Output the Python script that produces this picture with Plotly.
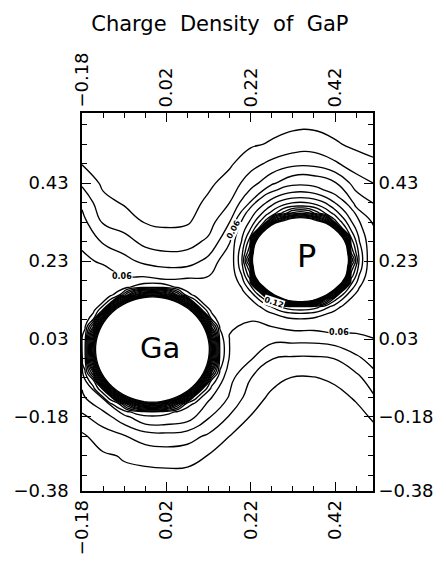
import plotly.graph_objects as go

# ---------------- data ----------------
# coarse charge-density grid covering the whole panel (waves between the atoms)
x_vals = [-0.18, -0.13, -0.08, -0.03, 0.02, 0.07, 0.12, 0.17, 0.22, 0.27, 0.32, 0.37, 0.42, 0.47, 0.52]
y_vals = [-0.37, -0.32, -0.27, -0.22, -0.17, -0.12, -0.07, -0.02, 0.03, 0.08, 0.13,
          0.18, 0.23, 0.28, 0.33, 0.38, 0.43, 0.48, 0.53, 0.58, 0.63]
density = [
    [0.020, 0.023, 0.023, 0.022, 0.022, 0.022, 0.021, 0.020, 0.020, 0.020, 0.020, 0.020, 0.020, 0.020, 0.020],
    [0.022, 0.026, 0.028, 0.0265, 0.027, 0.027, 0.024, 0.022, 0.021, 0.020, 0.020, 0.020, 0.020, 0.021, 0.021],
    [0.025, 0.0285, 0.0308, 0.034, 0.035, 0.034, 0.0295, 0.025, 0.023, 0.021, 0.021, 0.021, 0.021, 0.022, 0.024],
    [0.028, 0.0355, 0.0392, 0.0443, 0.0457, 0.044, 0.038, 0.0298, 0.026, 0.022, 0.023, 0.023, 0.022, 0.024, 0.028],
    [0.038, 0.045, 0.0567, 0.069, 0.069, 0.065, 0.051, 0.039, 0.0295, 0.024, 0.025, 0.025, 0.024, 0.027, 0.032],
    [0.048, 0.061, 0.090, 0.235, 0.233, 0.090, 0.062, 0.049, 0.0347, 0.028, 0.027, 0.027, 0.027, 0.031, 0.041],
    [0.053, 0.120, 0.500, 0.500, 0.500, 0.430, 0.078, 0.053, 0.0402, 0.033, 0.0295, 0.0295, 0.0317, 0.037, 0.048],
    [0.056, 0.300, 0.500, 0.500, 0.500, 0.500, 0.210, 0.056, 0.051, 0.0402, 0.0385, 0.0385, 0.0402, 0.048, 0.055],
    [0.059, 0.300, 0.500, 0.500, 0.500, 0.500, 0.210, 0.059, 0.055, 0.053, 0.053, 0.053, 0.055, 0.058, 0.0602],
    [0.064, 0.150, 0.450, 0.500, 0.500, 0.370, 0.100, 0.063, 0.0605, 0.064, 0.069, 0.069, 0.072, 0.065, 0.065],
    [0.067, 0.083, 0.090, 0.225, 0.223, 0.085, 0.075, 0.066, 0.080, 0.101, 0.208, 0.205, 0.105, 0.078, 0.068],
    [0.068, 0.069, 0.062, 0.063, 0.061, 0.062, 0.062, 0.068, 0.110, 0.320, 0.450, 0.450, 0.235, 0.101, 0.068],
    [0.063, 0.058, 0.0531, 0.0475, 0.0448, 0.0454, 0.053, 0.068, 0.180, 0.450, 0.450, 0.450, 0.450, 0.111, 0.065],
    [0.0575, 0.049, 0.044, 0.037, 0.0352, 0.0362, 0.042, 0.059, 0.110, 0.310, 0.450, 0.450, 0.250, 0.095, 0.061],
    [0.0535, 0.039, 0.035, 0.0295, 0.028, 0.029, 0.0355, 0.050, 0.090, 0.145, 0.220, 0.215, 0.121, 0.071, 0.056],
    [0.048, 0.0329, 0.029, 0.026, 0.025, 0.026, 0.032, 0.040, 0.061, 0.083, 0.101, 0.101, 0.081, 0.0567, 0.049],
    [0.0382, 0.028, 0.026, 0.024, 0.023, 0.024, 0.028, 0.034, 0.0454, 0.058, 0.068, 0.068, 0.061, 0.0452, 0.039],
    [0.0295, 0.025, 0.024, 0.022, 0.021, 0.022, 0.025, 0.0285, 0.0363, 0.0425, 0.047, 0.047, 0.0415, 0.0344, 0.031],
    [0.026, 0.023, 0.022, 0.021, 0.020, 0.021, 0.023, 0.026, 0.0285, 0.031, 0.0343, 0.035, 0.031, 0.028, 0.027],
    [0.024, 0.022, 0.021, 0.020, 0.020, 0.020, 0.022, 0.024, 0.026, 0.027, 0.028, 0.028, 0.027, 0.026, 0.025],
    [0.023, 0.021, 0.020, 0.020, 0.020, 0.020, 0.021, 0.023, 0.024, 0.025, 0.026, 0.026, 0.025, 0.024, 0.023],
]

# fine grid around the Ga atom (core rings)
ga_x = [-0.213, -0.193, -0.173, -0.153, -0.133, -0.113, -0.093, -0.073, -0.053, -0.033, -0.013,
        0.007, 0.027, 0.047, 0.067, 0.087, 0.107, 0.127, 0.147, 0.167, 0.187]
ga_y = [-0.197, -0.177, -0.157, -0.137, -0.117, -0.097, -0.077, -0.057, -0.037, -0.017, 0.003,
        0.023, 0.043, 0.063, 0.083, 0.103, 0.123, 0.143, 0.163, 0.183, 0.203]
ga_density = [
    [0.05, 0.05, 0.05, 0.05, 0.05, 0.05, 0.05, 0.0505, 0.0524, 0.0536, 0.054, 0.0536, 0.0524, 0.0505, 0.05, 0.05, 0.05, 0.05, 0.05, 0.05, 0.05],
    [0.05, 0.05, 0.05, 0.05, 0.05, 0.0516, 0.0552, 0.0581, 0.0604, 0.0623, 0.0629, 0.0623, 0.0604, 0.0581, 0.0552, 0.0516, 0.05, 0.05, 0.05, 0.05, 0.05],
    [0.05, 0.05, 0.05, 0.05, 0.054, 0.0585, 0.0636, 0.0683, 0.0731, 0.0768, 0.078, 0.0768, 0.0731, 0.0683, 0.0636, 0.0585, 0.054, 0.05, 0.05, 0.05, 0.05],
    [0.05, 0.05, 0.05, 0.0548, 0.0604, 0.0676, 0.0768, 0.1097, 0.1447, 0.1666, 0.1739, 0.1666, 0.1447, 0.1097, 0.0768, 0.0676, 0.0604, 0.0548, 0.05, 0.05, 0.05],
    [0.05, 0.05, 0.054, 0.0604, 0.069, 0.0893, 0.152, 0.204, 0.244, 0.269, 0.278, 0.269, 0.244, 0.204, 0.152, 0.0893, 0.069, 0.0604, 0.054, 0.05, 0.05],
    [0.05, 0.0516, 0.0585, 0.0676, 0.0893, 0.1666, 0.236, 0.296, 0.342, 0.372, 0.383, 0.372, 0.342, 0.296, 0.236, 0.1666, 0.0893, 0.0676, 0.0585, 0.0516, 0.05],
    [0.05, 0.0552, 0.0636, 0.0768, 0.152, 0.236, 0.314, 0.383, 0.438, 0.474, 0.487, 0.474, 0.438, 0.383, 0.314, 0.236, 0.152, 0.0768, 0.0636, 0.0552, 0.05],
    [0.0505, 0.0581, 0.0683, 0.1097, 0.204, 0.296, 0.383, 0.462, 0.528, 0.575, 0.5915, 0.575, 0.528, 0.462, 0.383, 0.296, 0.204, 0.1097, 0.0683, 0.0581, 0.0505],
    [0.0524, 0.0604, 0.0731, 0.1447, 0.244, 0.342, 0.438, 0.528, 0.6, 0.6, 0.6, 0.6, 0.6, 0.528, 0.438, 0.342, 0.244, 0.1447, 0.0731, 0.0604, 0.0524],
    [0.0536, 0.0623, 0.0768, 0.1666, 0.269, 0.372, 0.474, 0.575, 0.6, 0.6, 0.6, 0.6, 0.6, 0.575, 0.474, 0.372, 0.269, 0.1666, 0.0768, 0.0623, 0.0536],
    [0.054, 0.0629, 0.078, 0.1739, 0.278, 0.383, 0.487, 0.5915, 0.6, 0.6, 0.6, 0.6, 0.6, 0.5915, 0.487, 0.383, 0.278, 0.1739, 0.078, 0.0629, 0.054],
    [0.0536, 0.0623, 0.0768, 0.1666, 0.269, 0.372, 0.474, 0.575, 0.6, 0.6, 0.6, 0.6, 0.6, 0.575, 0.474, 0.372, 0.269, 0.1666, 0.0768, 0.0623, 0.0536],
    [0.0524, 0.0604, 0.0731, 0.1447, 0.244, 0.342, 0.438, 0.528, 0.6, 0.6, 0.6, 0.6, 0.6, 0.528, 0.438, 0.342, 0.244, 0.1447, 0.0731, 0.0604, 0.0524],
    [0.0505, 0.0581, 0.0683, 0.1097, 0.204, 0.296, 0.383, 0.462, 0.528, 0.575, 0.5915, 0.575, 0.528, 0.462, 0.383, 0.296, 0.204, 0.1097, 0.0683, 0.0581, 0.0505],
    [0.05, 0.0552, 0.0636, 0.0768, 0.152, 0.236, 0.314, 0.383, 0.438, 0.474, 0.487, 0.474, 0.438, 0.383, 0.314, 0.236, 0.152, 0.0768, 0.0636, 0.0552, 0.05],
    [0.05, 0.0516, 0.0585, 0.0676, 0.0893, 0.1666, 0.236, 0.296, 0.342, 0.372, 0.383, 0.372, 0.342, 0.296, 0.236, 0.1666, 0.0893, 0.0676, 0.0585, 0.0516, 0.05],
    [0.05, 0.05, 0.054, 0.0604, 0.069, 0.0893, 0.152, 0.204, 0.244, 0.269, 0.278, 0.269, 0.244, 0.204, 0.152, 0.0893, 0.069, 0.0604, 0.054, 0.05, 0.05],
    [0.05, 0.05, 0.05, 0.0548, 0.0604, 0.0676, 0.0768, 0.1097, 0.1447, 0.1666, 0.1739, 0.1666, 0.1447, 0.1097, 0.0768, 0.0676, 0.0604, 0.0548, 0.05, 0.05, 0.05],
    [0.05, 0.05, 0.05, 0.05, 0.054, 0.0585, 0.0636, 0.0683, 0.0731, 0.0768, 0.078, 0.0768, 0.0731, 0.0683, 0.0636, 0.0585, 0.054, 0.05, 0.05, 0.05, 0.05],
    [0.05, 0.05, 0.05, 0.05, 0.05, 0.0516, 0.0552, 0.0581, 0.0604, 0.0623, 0.0629, 0.0623, 0.0604, 0.0581, 0.0552, 0.0516, 0.05, 0.05, 0.05, 0.05, 0.05],
    [0.05, 0.05, 0.05, 0.05, 0.05, 0.05, 0.05, 0.0505, 0.0524, 0.0536, 0.054, 0.0536, 0.0524, 0.0505, 0.05, 0.05, 0.05, 0.05, 0.05, 0.05, 0.05],
]

# fine grid around the P atom (core rings)
p_x = [0.138, 0.158, 0.178, 0.198, 0.218, 0.238, 0.258, 0.278, 0.298, 0.318, 0.338,
       0.358, 0.378, 0.398, 0.418, 0.438, 0.458, 0.478, 0.498, 0.518, 0.538]
p_y = [0.033, 0.053, 0.073, 0.093, 0.113, 0.133, 0.153, 0.173, 0.193, 0.213, 0.233,
       0.253, 0.273, 0.293, 0.313, 0.333, 0.353, 0.373, 0.393, 0.413, 0.433]
p_density = [
    [0.05, 0.05, 0.05, 0.05, 0.05, 0.05, 0.05, 0.0505, 0.0516, 0.0523, 0.0525, 0.0523, 0.0516, 0.0505, 0.05, 0.05, 0.05, 0.05, 0.05, 0.05, 0.05],
    [0.05, 0.05, 0.05, 0.05, 0.05, 0.0515, 0.0536, 0.0552, 0.0565, 0.0572, 0.0575, 0.0572, 0.0565, 0.0552, 0.0536, 0.0515, 0.05, 0.05, 0.05, 0.05, 0.05],
    [0.05, 0.05, 0.05, 0.051, 0.0533, 0.056, 0.0583, 0.0603, 0.0628, 0.0645, 0.065, 0.0645, 0.0628, 0.0603, 0.0583, 0.056, 0.0533, 0.051, 0.05, 0.05, 0.05],
    [0.05, 0.05, 0.051, 0.0543, 0.0575, 0.0609, 0.0653, 0.0697, 0.0734, 0.0759, 0.0767, 0.0759, 0.0734, 0.0697, 0.0653, 0.0609, 0.0575, 0.0543, 0.051, 0.05, 0.05],
    [0.05, 0.051, 0.0541, 0.0578, 0.0624, 0.0685, 0.0761, 0.0837, 0.093, 0.0983, 0.1001, 0.0983, 0.093, 0.0837, 0.0761, 0.0685, 0.0624, 0.0578, 0.0541, 0.051, 0.05],
    [0.05, 0.0529, 0.0571, 0.0621, 0.0691, 0.0803, 0.0951, 0.1336, 0.2006, 0.243, 0.256, 0.243, 0.2006, 0.1336, 0.0951, 0.0803, 0.0691, 0.0621, 0.0571, 0.0529, 0.05],
    [0.051, 0.0554, 0.06, 0.0673, 0.0789, 0.0984, 0.1743, 0.2848, 0.357, 0.6, 0.6, 0.6, 0.357, 0.2848, 0.1743, 0.0984, 0.0789, 0.0673, 0.06, 0.0554, 0.051],
    [0.0526, 0.0573, 0.0635, 0.0731, 0.0917, 0.1781, 0.3072, 0.42, 0.6, 0.6, 0.6, 0.6, 0.6, 0.42, 0.3072, 0.1781, 0.0917, 0.0731, 0.0635, 0.0573, 0.0526],
    [0.0539, 0.0588, 0.0664, 0.079, 0.1062, 0.2622, 0.405, 0.6, 0.6, 0.6, 0.6, 0.6, 0.6, 0.6, 0.405, 0.2622, 0.1062, 0.079, 0.0664, 0.0588, 0.0539],
    [0.0548, 0.0597, 0.0681, 0.0846, 0.1178, 0.3169, 0.47, 0.6, 0.6, 0.6, 0.6, 0.6, 0.6, 0.6, 0.47, 0.3169, 0.1178, 0.0846, 0.0681, 0.0597, 0.0548],
    [0.055, 0.06, 0.0687, 0.0867, 0.14, 0.336, 0.5, 0.6, 0.6, 0.6, 0.6, 0.6, 0.6, 0.6, 0.5, 0.336, 0.14, 0.0867, 0.0687, 0.06, 0.055],
    [0.0549, 0.0599, 0.0685, 0.0852, 0.119, 0.3163, 0.47, 0.6, 0.6, 0.6, 0.6, 0.6, 0.6, 0.6, 0.47, 0.3163, 0.119, 0.0852, 0.0685, 0.0599, 0.0549],
    [0.0544, 0.0596, 0.0678, 0.0813, 0.1095, 0.2625, 0.4018, 0.6, 0.6, 0.6, 0.6, 0.6, 0.6, 0.6, 0.4018, 0.2625, 0.1095, 0.0813, 0.0678, 0.0596, 0.0544],
    [0.0536, 0.0589, 0.0663, 0.0776, 0.0977, 0.1917, 0.3014, 0.45, 0.6, 0.6, 0.6, 0.6, 0.6, 0.45, 0.3014, 0.1917, 0.0977, 0.0776, 0.0663, 0.0589, 0.0536],
    [0.0524, 0.0577, 0.0639, 0.0734, 0.0881, 0.1103, 0.2015, 0.2746, 0.344, 0.6, 0.6, 0.6, 0.344, 0.2746, 0.2015, 0.1103, 0.0881, 0.0734, 0.0639, 0.0577, 0.0524],
    [0.0515, 0.0559, 0.0615, 0.0698, 0.0802, 0.0953, 0.1138, 0.1712, 0.2021, 0.2277, 0.24, 0.2277, 0.2021, 0.1712, 0.1138, 0.0953, 0.0802, 0.0698, 0.0615, 0.0559, 0.0515],
    [0.05, 0.0536, 0.059, 0.0652, 0.074, 0.0843, 0.0969, 0.1078, 0.1235, 0.1413, 0.1478, 0.1413, 0.1235, 0.1078, 0.0969, 0.0843, 0.074, 0.0652, 0.059, 0.0536, 0.05],
    [0.05, 0.0524, 0.0559, 0.0612, 0.0674, 0.0757, 0.084, 0.094, 0.1011, 0.1053, 0.1067, 0.1053, 0.1011, 0.094, 0.084, 0.0757, 0.0674, 0.0612, 0.0559, 0.0524, 0.05],
    [0.05, 0.051, 0.0534, 0.0571, 0.062, 0.0672, 0.074, 0.0804, 0.0855, 0.0889, 0.09, 0.0889, 0.0855, 0.0804, 0.074, 0.0672, 0.062, 0.0571, 0.0534, 0.051, 0.05],
    [0.05, 0.05, 0.0515, 0.0539, 0.0569, 0.0612, 0.0653, 0.0689, 0.073, 0.0757, 0.0767, 0.0757, 0.073, 0.0689, 0.0653, 0.0612, 0.0569, 0.0539, 0.0515, 0.05, 0.05],
    [0.05, 0.05, 0.05, 0.051, 0.0535, 0.056, 0.0587, 0.0617, 0.064, 0.0655, 0.066, 0.0655, 0.064, 0.0617, 0.0587, 0.056, 0.0535, 0.051, 0.05, 0.05, 0.05],
]

# contour levels: outer waves / atom cores
wave_levels = (0.03, 0.06, 0.01)
core_levels = (0.07, 0.20, 0.01)

# axis ticks
x_tick0, x_dtick = -0.18, 0.2
y_tickvals = [-0.36, -0.17, 0.03, 0.23, 0.43]
y_ticktext = ["\u22120.38", "\u22120.18", "0.03", "0.23", "0.43"]

# atom names and contour labels
atoms = [("Ga", 0.004, 0.006, 29), ("P", 0.352, 0.242, 32)]
level_labels = [("0.06", -0.085, 0.19, 0), ("0.06", 0.18, 0.31, -62),
                ("0.12", 0.275, 0.124, 18), ("0.06", 0.43, 0.047, 0)]

FONT = "DejaVu Sans"

# ---------------- figure ----------------
fig = go.Figure()
line_style = dict(color="black", width=1.35, smoothing=1.3)


def add_contour(xs, ys, zs, levels):
    start, end, size = levels
    fig.add_trace(go.Contour(
        x=xs, y=ys, z=zs,
        contours=dict(start=start, end=end, size=size, coloring="none"),
        line=line_style, showscale=False, hoverinfo="skip",
    ))


add_contour(x_vals, y_vals, density, wave_levels)
add_contour(ga_x, ga_y, ga_density, core_levels)
add_contour(p_x, p_y, p_density, core_levels)

fig.add_trace(go.Scatter(x=[], y=[], xaxis="x2", yaxis="y", showlegend=False))
fig.add_trace(go.Scatter(x=[], y=[], xaxis="x", yaxis="y2", showlegend=False))

common = dict(showgrid=False, zeroline=False, showline=True, linecolor="black", linewidth=1.6,
              ticks="inside", ticklen=9, tickwidth=1.4, tickcolor="black",
              tickfont=dict(family=FONT, size=18, color="black"))
xcommon = dict(common, range=[-0.18, 0.51], tickmode="linear", tick0=x_tick0, dtick=x_dtick,
               tickangle=-90,
               minor=dict(tickmode="linear", tick0=-0.18, dtick=0.05, ticks="inside",
                          ticklen=5, tickwidth=1.4, tickcolor="black", showgrid=False))
ycommon = dict(common, range=[-0.36, 0.61], tickmode="array", tickvals=y_tickvals, ticktext=y_ticktext,
               minor=dict(tickmode="linear", tick0=0.03, dtick=0.05, ticks="inside",
                          ticklen=5, tickwidth=1.4, tickcolor="black", showgrid=False))

fig.update_layout(
    width=446, height=567,
    margin=dict(l=82, r=71, t=113, b=66),
    paper_bgcolor="white", plot_bgcolor="white",
    showlegend=False,
    title=dict(text="Charge\u00a0\u00a0Density\u00a0\u00a0of\u00a0\u00a0GaP",
               x=0.493, xanchor="center", y=0.958, yanchor="middle",
               font=dict(family=FONT, size=21, color="black")),
    xaxis=dict(xcommon, side="bottom", anchor="y"),
    xaxis2=dict(xcommon, side="top", overlaying="x", anchor="y"),
    yaxis=dict(ycommon, side="left", anchor="x", ticklabelstandoff=8),
    yaxis2=dict(ycommon, side="right", overlaying="y", anchor="x"),
)

for name, ax, ay, size in atoms:
    fig.add_annotation(x=ax, y=ay, text=name, showarrow=False,
                       font=dict(family=FONT, size=size, color="black"))
for txt, ax, ay, ang in level_labels:
    fig.add_annotation(x=ax, y=ay, text="<b>" + txt + "</b>", showarrow=False, textangle=ang,
                       bgcolor="white", borderpad=0,
                       font=dict(family=FONT, size=8, color="black"))

fig.write_html("out.html")
